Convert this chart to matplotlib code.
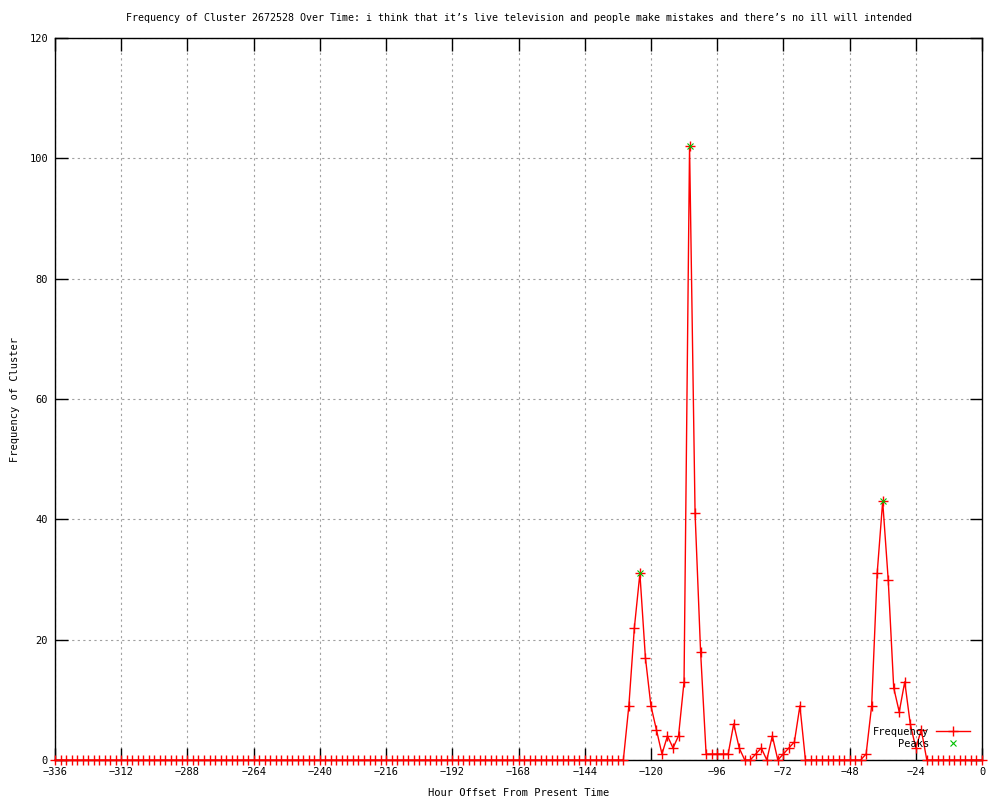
import numpy as np
import matplotlib.pyplot as plt

# hour offsets every 2 hours, -336 .. 0
hours = np.arange(-336, 1, 2)

# non-zero frequency values (hour: count)
nonzero = {
    -128: 9, -126: 22, -124: 31, -122: 17, -120: 9, -118: 5, -116: 1,
    -114: 4, -112: 2, -110: 4, -108: 13, -106: 102, -104: 41, -102: 18,
    -100: 1, -98: 1, -96: 1, -94: 1, -92: 1, -90: 6, -88: 2,
    -82: 1, -80: 2, -76: 4, -72: 1, -70: 2, -68: 3, -66: 9,
    -42: 1, -40: 9, -38: 31, -36: 43, -34: 30, -32: 12, -30: 8,
    -28: 13, -26: 6, -24: 2, -22: 5,
}
freq = [nonzero.get(h, 0) for h in hours]

peak_hours = [-124, -106, -36]
peak_vals = [31, 102, 43]

title = ("Frequency of Cluster 2672528 Over Time: i think that it\u2019s live "
         "television and people make mistakes and there\u2019s no ill will intended")

plt.rcParams['font.family'] = ['DejaVu Sans Mono']
plt.rcParams['font.size'] = 7.5

fig = plt.figure(figsize=(10, 8), dpi=100)
ax = fig.add_axes([0.055, 0.05, 0.927, 0.9025])

ax.plot(hours, freq, color='#ff0000', lw=1, marker='+', ms=7, mew=1,
        label='Frequency', clip_on=False, zorder=3)
ax.plot(peak_hours, peak_vals, color='#00c000', ls='none', marker='x',
        ms=5, mew=0.8, label='Peaks', zorder=4)

ax.set_xlim(-336, 0)
ax.set_ylim(0, 120)
ax.set_xticks(np.arange(-336, 1, 24))
ax.set_yticks(np.arange(0, 121, 20))
ax.grid(True, color='#a0a0a0', ls=(0, (2, 3)), lw=0.8)
ax.tick_params(direction='in', length=9, width=1, top=True, right=True,
               labelsize=7.5, pad=5)
for s in ax.spines.values():
    s.set_linewidth(1)

ax.set_title(title, fontsize=7.2, pad=12)
ax.set_xlabel("Hour Offset From Present Time", fontsize=7.5, labelpad=8)
ax.set_ylabel("Frequency of Cluster", fontsize=7.5)
ax.yaxis.set_label_coords(-0.038, 0.5)

ax.legend(loc='lower right', bbox_to_anchor=(0.995, 0.005), frameon=False,
          markerfirst=False, handlelength=3.3, fontsize=7.5,
          labelspacing=0.2, borderpad=0.2, handletextpad=0.6)

fig.savefig("out.png", dpi=100)
